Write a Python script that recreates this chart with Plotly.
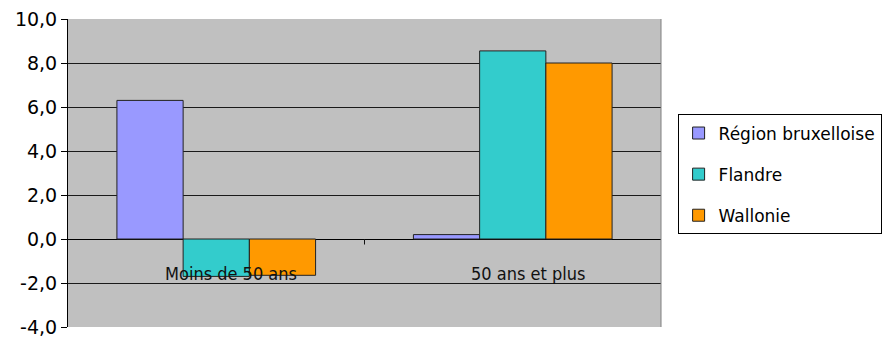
import plotly.graph_objects as go

categories = ["Moins de 50 ans", "50 ans et plus"]
series_names = ["Région bruxelloise", "Flandre", "Wallonie"]
bruxelles = [6.3, 0.2]
flandre = [-1.7, 8.55]
wallonie = [-1.65, 8.0]
colors = ["#9999FF", "#33CCCC", "#FF9900"]

tick_vals = [-4, -2, 0, 2, 4, 6, 8, 10]
tick_text = ["-4,0", "-2,0", "0,0", "2,0", "4,0", "6,0", "8,0", "10,0"]

font_family = "DejaVu Sans, Verdana, sans-serif"
narrow_family = "DejaVu Sans Condensed, Liberation Sans Narrow, sans-serif"

fig = go.Figure()
for name, vals, col in zip(series_names, [bruxelles, flandre, wallonie], colors):
    fig.add_trace(go.Bar(
        x=categories, y=vals, name=name, legendgroup=name,
        marker=dict(color=col, line=dict(color="#222222", width=1)),
    ))

# category labels sit just under the zero line, inside the plot area
for cat in categories:
    fig.add_annotation(x=cat, y=0, yref="y", xref="x", text=cat, showarrow=False,
                       yanchor="middle", yshift=-34, xshift=15,
                       font=dict(family=narrow_family, size=18, color="#111111"))

# tick mark between the two categories on the zero line
fig.add_shape(type="line", xref="x", yref="y", x0=0.5, x1=0.5, y0=0, y1=-0.25,
              line=dict(color="#111111", width=1))

fig.update_layout(
    width=892, height=339,
    margin=dict(l=68, r=231, t=19, b=12, autoexpand=False),
    paper_bgcolor="white",
    plot_bgcolor="#C0C0C0",
    barmode="group",
    bargap=0.33,
    bargroupgap=0,
    font=dict(family=font_family, color="#000000"),
    showlegend=True,
    legend=dict(
        x=1.028, y=0.69, xanchor="left", yanchor="top",
        bgcolor="white", bordercolor="#000000", borderwidth=1,
        font=dict(family=font_family, size=17, color="#000000"),
        tracegroupgap=16,
        traceorder="grouped",
    ),
    xaxis=dict(
        showticklabels=False, showgrid=False, zeroline=False,
        showline=False, ticks="", range=[-0.5, 1.5],
    ),
    yaxis=dict(
        range=[-4, 10], tickvals=tick_vals, ticktext=tick_text,
        showgrid=True, gridcolor="#1a1a1a", gridwidth=1,
        zeroline=True, zerolinecolor="#000000", zerolinewidth=1,
        showline=True, linecolor="#000000", linewidth=1,
        ticks="outside", ticklen=6, tickcolor="#000000",
        tickfont=dict(family=font_family, size=19, color="#000000"),
        automargin=False,
        mirror=False,
    ),
)

# right border of the plot area
fig.add_shape(type="line", xref="paper", yref="paper", x0=1, x1=1, y0=0, y1=1,
              line=dict(color="#808080", width=1))

fig.write_html("out.html")
